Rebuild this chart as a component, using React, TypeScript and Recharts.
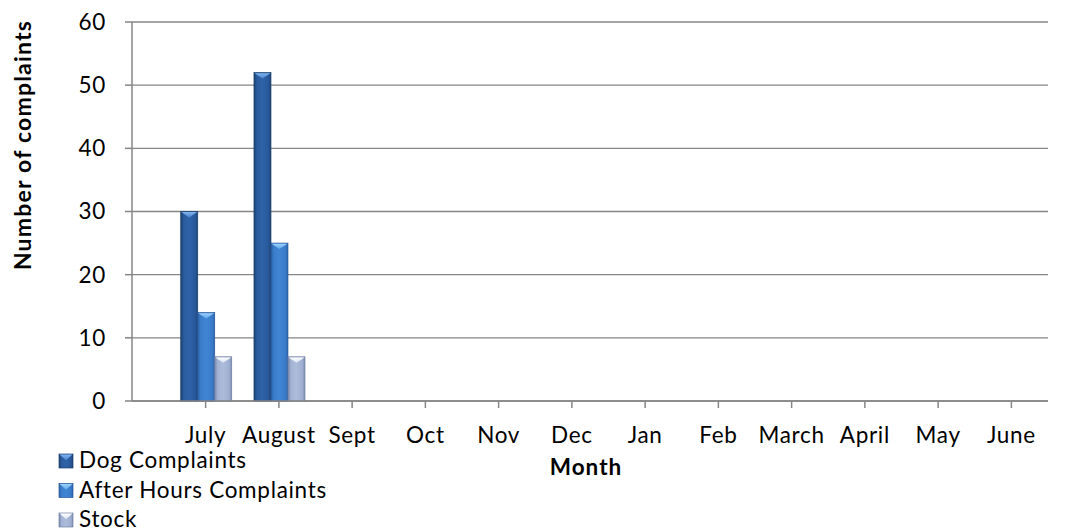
import React from 'react';
import { BarChart, Bar, XAxis, YAxis, CartesianGrid, Legend, Label } from 'recharts';

// Monthly complaint counts (financial year July–June)
const months = ['July', 'August', 'Sept', 'Oct', 'Nov', 'Dec', 'Jan', 'Feb', 'March', 'April', 'May', 'June'];
const dogComplaints = [30, 52, null, null, null, null, null, null, null, null, null, null];
const afterHoursComplaints = [14, 25, null, null, null, null, null, null, null, null, null, null];
const stockComplaints = [7, 7, null, null, null, null, null, null, null, null, null, null];
const yTicks = [0, 10, 20, 30, 40, 50, 60];

const seriesKeys = ['dog', 'afterHours', 'stock'];
const seriesNames = ['Dog Complaints', 'After Hours Complaints', 'Stock'];

const data = months.map((m, i) => ({
  month: m,
  dog: dogComplaints[i],
  afterHours: afterHoursComplaints[i],
  stock: stockComplaints[i],
}));

const FONT = 'Lato, "Open Sans", sans-serif';
const AXIS_GRAY = '#868686';
const TEXT_SIZE = 22.5;
const TEXT_SPACING = 0.7;

// Bevelled bar styling per series
const styles: Record<string, { grad: string; edge: string; mid: string }> = {
  dog: { grad: 'gDog', edge: '#1b3f6e', mid: '#2c5fa2' },
  afterHours: { grad: 'gAfter', edge: '#25569a', mid: '#3d80cf' },
  stock: { grad: 'gStock', edge: '#6f7fa3', mid: '#a8b8d7' },
};

const BevelBar = (props: any) => {
  const { x, y, width, height, seriesKey } = props;
  if (height == null || height <= 0 || width <= 0) return null;
  const s = styles[seriesKey];
  const capH = Math.min(6, height);
  return (
    <g>
      <rect x={x} y={y} width={width} height={height} fill={`url(#${s.grad})`} stroke={s.edge} strokeWidth={0.7} />
      <polygon
        points={`${x + 0.6},${y + 0.6} ${x + width - 0.6},${y + 0.6} ${x + width / 2},${y + capH}`}
        fill={`url(#${s.grad}Cap)`}
      />
    </g>
  );
};

const LegendIcon = ({ seriesKey, x, y, size }: any) => {
  const s = styles[seriesKey];
  return (
    <g>
      <rect x={x} y={y} width={size} height={size} fill={`url(#${s.grad}L)`} stroke={s.edge} strokeWidth={0.7} />
      <polygon
        points={`${x + 0.6},${y + 0.6} ${x + size - 0.6},${y + 0.6} ${x + size / 2},${y + size * 0.45}`}
        fill={`url(#${s.grad}CapL)`}
      />
    </g>
  );
};

function gradientDefs(suffix: string) {
  return (
    <>
      <linearGradient id={`gDog${suffix}`} x1="0" y1="0" x2="1" y2="0">
        <stop offset="0%" stopColor="#1c416f" />
        <stop offset="18%" stopColor="#2a5c9d" />
        <stop offset="50%" stopColor="#2e63a8" />
        <stop offset="85%" stopColor="#28589a" />
        <stop offset="100%" stopColor="#1d4274" />
      </linearGradient>
      <linearGradient id={`gDogCap${suffix}`} x1="0" y1="0" x2="0" y2="1">
        <stop offset="0%" stopColor="#7fb2ee" />
        <stop offset="100%" stopColor="#4c86cf" />
      </linearGradient>
      <linearGradient id={`gAfter${suffix}`} x1="0" y1="0" x2="1" y2="0">
        <stop offset="0%" stopColor="#2b62a8" />
        <stop offset="18%" stopColor="#3b7dcb" />
        <stop offset="50%" stopColor="#4085d4" />
        <stop offset="85%" stopColor="#3a7bc9" />
        <stop offset="100%" stopColor="#2c63a9" />
      </linearGradient>
      <linearGradient id={`gAfterCap${suffix}`} x1="0" y1="0" x2="0" y2="1">
        <stop offset="0%" stopColor="#9ad0fb" />
        <stop offset="100%" stopColor="#5fa6ea" />
      </linearGradient>
      <linearGradient id={`gStock${suffix}`} x1="0" y1="0" x2="1" y2="0">
        <stop offset="0%" stopColor="#7a8ab0" />
        <stop offset="18%" stopColor="#a3b3d4" />
        <stop offset="50%" stopColor="#adbcd9" />
        <stop offset="85%" stopColor="#9eafd1" />
        <stop offset="100%" stopColor="#7d8db2" />
      </linearGradient>
      <linearGradient id={`gStockCap${suffix}`} x1="0" y1="0" x2="0" y2="1">
        <stop offset="0%" stopColor="#ffffff" />
        <stop offset="100%" stopColor="#d6e0f2" />
      </linearGradient>
    </>
  );
}

const LegendContent = () => (
  <svg width={340} height={92} style={{ display: 'block', overflow: 'visible' }}>
    <defs>{gradientDefs('L')}</defs>
    {seriesKeys.map((k, i) => (
      <g key={k}>
        <LegendIcon seriesKey={k} x={59} y={9 + i * 29.5} size={14} />
        <text
          x={79}
          y={23 + i * 29.5}
          fontFamily={FONT}
          fontSize={TEXT_SIZE}
          letterSpacing={TEXT_SPACING}
          fill="#000"
        >
          {seriesNames[i]}
        </text>
      </g>
    ))}
  </svg>
);

const tickStyle = { fontFamily: FONT, fontSize: TEXT_SIZE, fill: '#000', letterSpacing: TEXT_SPACING };

export default function App() {
  return (
    <div style={{ position: 'absolute', left: 0, top: 0, width: 1075, height: 532, background: '#fff' }}>
      <BarChart
        width={1075}
        height={532}
        data={data}
        margin={{ top: 22, right: 27, left: 72, bottom: 91 }}
        barCategoryGap="16%"
        barGap={0}
      >
        <defs>{gradientDefs('')}</defs>
        <CartesianGrid vertical={false} stroke={AXIS_GRAY} strokeWidth={1.3} />
        <XAxis
          dataKey="month"
          height={40}
          padding={{ left: 37, right: 0 }}
          interval={0}
          axisLine={{ stroke: AXIS_GRAY, strokeWidth: 1.5 }}
          tickLine={{ stroke: AXIS_GRAY, strokeWidth: 1.5 }}
          tickSize={7}
          tickMargin={19}
          tick={tickStyle}
        >
          <Label
            content={() => (
              <text
                x={586}
                y={475}
                textAnchor="middle"
                fontFamily={FONT}
                fontWeight="bold"
                fontSize={22.5}
                letterSpacing={1}
                fill="#000"
              >
                Month
              </text>
            )}
          />
        </XAxis>
        <YAxis
          width={60}
          domain={[0, 60]}
          ticks={yTicks}
          interval={0}
          axisLine={{ stroke: AXIS_GRAY, strokeWidth: 1.5 }}
          tickLine={{ stroke: AXIS_GRAY, strokeWidth: 1.5 }}
          tickSize={7}
          tickMargin={19}
          tick={tickStyle}
        >
          <Label
            content={() => (
              <text
                x={31}
                y={145}
                transform="rotate(-90 31 145)"
                textAnchor="middle"
                fontFamily={FONT}
                fontWeight="bold"
                fontSize={23}
                letterSpacing={1.2}
                fill="#000"
              >
                Number of complaints
              </text>
            )}
          />
        </YAxis>
        <Legend
          layout="horizontal"
          verticalAlign="middle"
          align="center"
          wrapperStyle={{ left: 0, top: 445, width: 340, height: 92 }}
          content={() => <LegendContent />}
        />
        {seriesKeys.map((k, i) => (
          <Bar
            key={k}
            dataKey={k}
            name={seriesNames[i]}
            fill={styles[k].mid}
            isAnimationActive={false}
            shape={(p: any) => <BevelBar {...p} seriesKey={k} />}
          />
        ))}
      </BarChart>
    </div>
  );
}
